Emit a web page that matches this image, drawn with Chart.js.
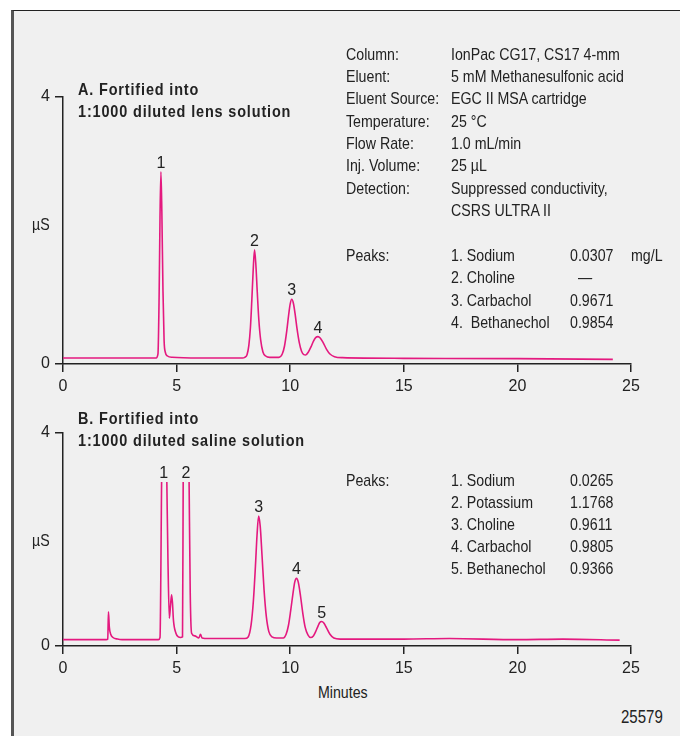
<!DOCTYPE html>
<html>
<head>
<meta charset="utf-8">
<title>Chromatograms A/B</title>
<script src="https://cdn.jsdelivr.net/npm/chart.js@4.4.1/dist/chart.umd.min.js"></script>
<style>
    html, body { margin: 0; padding: 0; background: #fff; }
    #page {
        position: relative; width: 680px; height: 736px; overflow: hidden;
        font-family: "Liberation Sans", Arial, sans-serif;
        color: #222;
    }
    #frame {
        position: absolute; left: 11px; top: 10px; right: 0; bottom: 0;
        background: #f0f0f0; border-top: 1px solid #222; border-left: 3px solid #555;
    }
    canvas { position: absolute; left: 0; }
    /* no narrow font installed: squeeze Liberation Sans instead */
    .txt {
        position: absolute; font-size: 17px; white-space: pre;
        transform: scaleX(0.835); transform-origin: 0 0;
    }
    .title { font-weight: bold; letter-spacing: 1px; transform: scaleX(0.85); }
</style>
</head>
<body>
<div id="page">
    <div id="frame"></div>
    <canvas id="chartA" width="680" height="400" style="top:0"></canvas>
    <canvas id="chartB" width="680" height="280" style="top:400px"></canvas>
</div>
<script>
// Axis ticks (both panels)
var xTicks = [0, 5, 10, 15, 20, 25];
var yTicks = [0, 4];

// A. lens solution trace (minutes, µS)
var timeA = [0, 4.0, 4.10, 4.18, 4.23, 4.27, 4.31, 4.35, 4.40, 4.45,
    4.50, 4.60, 4.80, 6.0, 7.9, 8.00, 8.10, 8.18, 8.25, 8.31,
    8.37, 8.43, 8.49, 8.55, 8.62, 8.70, 8.80, 8.92, 9.10, 9.50,
    9.65, 9.75, 9.85, 9.93, 10.00, 10.07, 10.14, 10.22, 10.30, 10.40,
    10.50, 10.60, 10.68, 10.80, 10.92, 11.02, 11.12, 11.22, 11.32, 11.45,
    11.60, 11.75, 11.95, 12.30, 15.0, 20.0, 24.2];
var signalA = [0.09, 0.09, 0.09, 0.15, 1.0, 2.2, 2.88, 2.3, 1.1, 0.35,
    0.18, 0.12, 0.10, 0.09, 0.09, 0.10, 0.14, 0.28, 0.55, 0.95,
    1.40, 1.71, 1.48, 1.08, 0.66, 0.36, 0.18, 0.12, 0.10, 0.10,
    0.15, 0.27, 0.50, 0.73, 0.90, 0.97, 0.91, 0.74, 0.53, 0.32,
    0.19, 0.14, 0.135, 0.18, 0.26, 0.34, 0.395, 0.41, 0.39, 0.32,
    0.22, 0.15, 0.11, 0.095, 0.085, 0.08, 0.07];
var peakTimeA = [4.31, 8.43, 10.07, 11.22];
var peakHeightA = [2.88, 1.71, 0.97, 0.41];
var peakNumA = ["1", "2", "3", "4"];

// B. saline solution trace, null = peak top off scale
var timeB = [0, 1.90, 1.97, 2.00, 2.04, 2.10, 2.20, 2.40, 2.60, 4.20,
    4.27, 4.34, 4.45, 4.57, 4.62, 4.68, 4.73, 4.78, 4.82, 4.86,
    4.97, 5.08, 5.17, 5.26, 5.29, 5.42, 5.55, 5.60, 5.66, 5.80,
    5.98, 6.05, 6.12, 6.40, 8.00, 8.15, 8.28, 8.38, 8.47, 8.54,
    8.61, 8.68, 8.76, 8.85, 8.95, 9.06, 9.20, 9.40, 9.70, 9.82,
    9.92, 10.02, 10.12, 10.20, 10.28, 10.36, 10.46, 10.56, 10.66, 10.78,
    10.90, 11.02, 11.12, 11.22, 11.30, 11.39, 11.48, 11.60, 11.75, 11.92,
    12.20, 15.0, 17.0, 20.0, 22.0, 24.5];
var signalB = [0.12, 0.12, 0.13, 0.64, 0.35, 0.22, 0.16, 0.13, 0.12, 0.12,
    0.16, 3.08, null, 3.08, 1.6, 0.52, 0.75, 0.96, 0.80, 0.49,
    0.24, 0.17, 0.16, 0.17, 3.08, null, 3.08, 1.0, 0.24, 0.19,
    0.15, 0.22, 0.15, 0.14, 0.14, 0.17, 0.40, 0.85, 1.50, 2.08,
    2.44, 2.25, 1.70, 1.05, 0.55, 0.27, 0.17, 0.15, 0.15, 0.22,
    0.38, 0.66, 0.98, 1.20, 1.27, 1.19, 0.92, 0.60, 0.35, 0.21,
    0.16, 0.19, 0.27, 0.37, 0.44, 0.46, 0.43, 0.34, 0.22, 0.15,
    0.13, 0.13, 0.14, 0.12, 0.13, 0.11];
var peakTimeB = [4.43, 5.41, 8.61, 10.28, 11.39];
var peakHeightB = [3.08, 3.08, 2.44, 1.27, 0.46];
var peakNumB = ["1", "2", "3", "4", "5"];

// Conditions and peak tables
var conditionLabels = ["Column:", "Eluent:", "Eluent Source:", "Temperature:", "Flow Rate:", "Inj. Volume:", "Detection:"];
var conditionValues = ["IonPac CG17, CS17 4-mm", "5 mM Methanesulfonic acid", "EGC II MSA cartridge",
    "25 \u00b0C", "1.0 mL/min", "25 \u00b5L", "Suppressed conductivity,", "CSRS ULTRA II"];
var peakNamesA = ["1. Sodium", "2. Choline", "3. Carbachol", "4.  Bethanechol"];
var peakAmountsA = ["0.0307", "  \u2014", "0.9671", "0.9854"];
var peakNamesB = ["1. Sodium", "2. Potassium", "3. Choline", "4. Carbachol", "5. Bethanechol"];
var peakAmountsB = ["0.0265", "1.1768", "0.9611", "0.9805", "0.9366"];

var LINE_COLOR = "#e4197f";
var AXIS_COLOR = "#222";
var FONT = '"Liberation Sans", Arial, sans-serif';

Chart.defaults.font.family = FONT;

// text block placed by the baseline of its first line
function addText(x, baseline, lines, lineHeight, cls, size) {
    size = size || 17;
    var content = size * 1.117;
    var el = document.createElement('div');
    el.className = 'txt ' + (cls || '');
    el.style.left = x + 'px';
    el.style.fontSize = size + 'px';
    el.style.lineHeight = lineHeight + 'px';
    el.style.top = (baseline - (lineHeight - content) / 2 - size * 0.905) + 'px';
    el.textContent = lines.join('\n');
    document.getElementById('page').appendChild(el);
}

function blanks(n) {
    var out = [];
    for (var i = 0; i < n; i++) out.push('');
    return out;
}

var peakLabels = {
    id: 'peakLabels',
    afterDatasetsDraw: function (chart, args, opts) {
        var ctx = chart.ctx;
        ctx.save();
        ctx.font = '16px ' + FONT;
        ctx.fillStyle = AXIS_COLOR;
        ctx.textAlign = 'center';
        ctx.textBaseline = 'alphabetic';
        opts.times.forEach(function (t, i) {
            var x = chart.scales.x.getPixelForValue(t);
            var y = chart.scales.y.getPixelForValue(opts.heights[i]);
            ctx.fillText(opts.labels[i], x, y - 4);
        });
        ctx.restore();
    }
};

function axisOptions(min, max, ticks, fit) {
    return {
        type: 'linear',
        min: min,
        max: max,
        afterBuildTicks: function (axis) {
            axis.ticks = ticks.map(function (v) { return {value: v}; });
        },
        afterFit: fit,
        grid: {
            drawOnChartArea: false,
            drawTicks: true,
            tickLength: 8,
            color: AXIS_COLOR,
            lineWidth: 1.5
        },
        border: { color: AXIS_COLOR, width: 1.5 },
        ticks: {
            color: AXIS_COLOR,
            font: { size: 16 },
            padding: 5,
            maxRotation: 0
        }
    };
}

// area: chart area in canvas pixels
function drawChromatogram(id, times, signal, peaks, area) {
    var canvas = document.getElementById(id);
    var points = times.map(function (t, i) { return {x: t, y: signal[i]}; });

    return new Chart(canvas, {
        type: 'line',
        data: {
            datasets: [{
                data: points,
                borderColor: LINE_COLOR,
                borderWidth: 1.6,
                pointRadius: 0,
                fill: false,
                cubicInterpolationMode: 'monotone',
                spanGaps: false
            }]
        },
        options: {
            responsive: false,
            animation: false,
            events: [],
            layout: {
                padding: { left: 0, top: area.top, right: canvas.width - area.right, bottom: 0 }
            },
            plugins: {
                legend: { display: false },
                tooltip: { enabled: false },
                peakLabels: peaks
            },
            scales: {
                x: axisOptions(0, 25, xTicks, function (s) { s.height = canvas.height - area.bottom; }),
                y: axisOptions(0, 4, yTicks, function (s) { s.width = area.left; })
            }
        },
        plugins: [peakLabels]
    });
}

drawChromatogram('chartA', timeA, signalA,
    { times: peakTimeA, heights: peakHeightA, labels: peakNumA },
    { left: 63, right: 631, top: 97, bottom: 364 });

drawChromatogram('chartB', timeB, signalB,
    { times: peakTimeB, heights: peakHeightB, labels: peakNumB },
    { left: 63, right: 631, top: 33, bottom: 246 });

// panel titles
addText(78, 95.5, ["A. Fortified into", "1:1000 diluted lens solution"], 22, 'title');
addText(78, 425, ["B. Fortified into", "1:1000 diluted saline solution"], 22, 'title');

// conditions + peaks for A
var LH = 22.36;
addText(346, 60.7, conditionLabels.concat(blanks(2), ["Peaks:"]), LH);
addText(451, 60.7, conditionValues.concat(blanks(1), peakNamesA), LH);
addText(570, 60.7, blanks(9).concat(peakAmountsA), LH);
addText(631, 60.7, blanks(9).concat(["mg/L"]), LH);

// peaks for B
addText(346, 486.7, ["Peaks:"], 22.1);
addText(451, 486.7, peakNamesB, 22.1);
addText(570, 486.7, peakAmountsB, 22.1);

// axis titles and figure number
addText(32, 230.7, ["\u00b5S"], 20, '', 17);
addText(32, 547.3, ["\u00b5S"], 20, '', 17);
addText(318, 699.3, ["Minutes"], 20);
addText(621, 723.3, ["25579"], 20, '', 18);
</script>
</body>
</html>
